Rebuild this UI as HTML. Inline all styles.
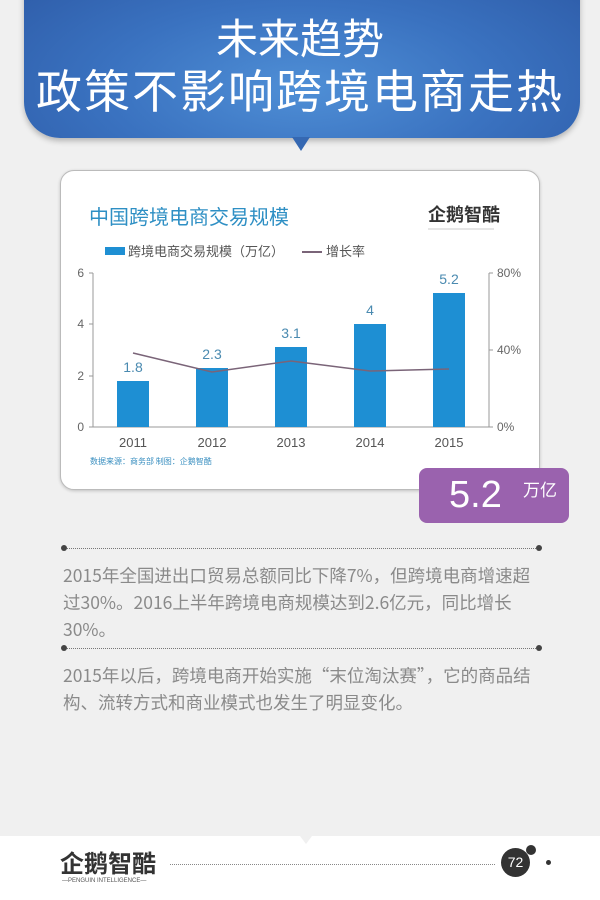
<!DOCTYPE html>
<html><head><meta charset="utf-8"><style>
*{margin:0;padding:0;box-sizing:border-box}
body{width:600px;height:900px;overflow:hidden;background:#f0f0f0;font-family:"Liberation Sans","Noto Sans CJK SC",sans-serif;position:relative}
.hdr{position:absolute;left:24px;top:-30px;width:556px;height:168px;border-radius:0 0 36px 36px;background:radial-gradient(ellipse at 50% 70%,#4f8fd6 0%,#3a72c0 50%,#2d5aa6 100%);box-shadow:0 3px 6px rgba(0,0,0,.25)}
.ptr{position:absolute;left:292px;top:137px;width:0;height:0;border-left:9px solid transparent;border-right:9px solid transparent;border-top:14px solid #3568b2}
.t{position:absolute;left:0;width:600px;text-align:center;color:#fff;font-family:"Noto Sans CJK SC",sans-serif;font-weight:400;white-space:nowrap}
.card{position:absolute;left:60px;top:170px;width:480px;height:320px;background:#fff;border:1px solid #bbb;border-radius:14px;box-shadow:0 1px 3px rgba(0,0,0,.2)}
.purple{position:absolute;left:419px;top:468px;width:150px;height:55px;background:#9a62ae;border-radius:8px;color:#fff}
.txt{position:absolute;left:63px;color:#8a8a8a;font-size:17.5px;line-height:27px;font-family:"Noto Sans CJK SC",sans-serif;white-space:nowrap}
.dl{position:absolute;left:63px;width:477px;border-top:1px dotted #777}
.dl:before,.dl:after{content:"";position:absolute;top:-4px;width:6px;height:6px;border-radius:3px;background:#444}
.dl:before{left:-2px}.dl:after{right:-2px}
.foot{position:absolute;left:0;top:836px;width:600px;height:64px;background:#fff}
</style></head><body>
<div class="hdr"></div>
<div class="ptr"></div>
<div class="t" style="top:11px;font-size:42px;line-height:52px">未来趋势</div>
<div class="t" style="top:61px;font-size:46px;line-height:56px;letter-spacing:2px">政策不影响跨境电商走热</div>

<div class="card"></div>
<svg style="position:absolute;left:0;top:0" width="600" height="900">
<g font-family="Liberation Sans, Noto Sans CJK SC, sans-serif">
<text x="89" y="224" font-size="20" fill="#2e8fc4" font-family="Noto Sans CJK SC, sans-serif">中国跨境电商交易规模</text>
<text x="428" y="221" font-size="18" fill="#333" font-family="Noto Sans CJK SC, sans-serif" font-weight="bold">企鹅智酷</text>
<line x1="428" y1="229" x2="494" y2="229" stroke="#999" stroke-width="0.6"/>
<rect x="105" y="247" width="20" height="8" fill="#1e8fd3"/>
<text x="128" y="256" font-size="13" fill="#555" font-family="Noto Sans CJK SC, sans-serif">跨境电商交易规模（万亿）</text>
<line x1="302" y1="252" x2="322" y2="252" stroke="#7a6478" stroke-width="2"/>
<text x="326" y="256" font-size="13" fill="#555" font-family="Noto Sans CJK SC, sans-serif">增长率</text>
<line x1="93" y1="273" x2="93" y2="427" stroke="#999"/>
<line x1="93" y1="427" x2="489" y2="427" stroke="#999"/>
<line x1="489" y1="273" x2="489" y2="427" stroke="#999"/>
<g stroke="#999"><line x1="89" y1="273" x2="93" y2="273"/><line x1="89" y1="324" x2="93" y2="324"/><line x1="89" y1="376" x2="93" y2="376"/><line x1="89" y1="427" x2="93" y2="427"/><line x1="489" y1="273" x2="493" y2="273"/><line x1="489" y1="350" x2="493" y2="350"/><line x1="489" y1="427" x2="493" y2="427"/></g>
<g font-size="12" fill="#666" text-anchor="end"><text x="84" y="277">6</text><text x="84" y="328">4</text><text x="84" y="380">2</text><text x="84" y="431">0</text></g>
<g font-size="12" fill="#666"><text x="497" y="277">80%</text><text x="497" y="354">40%</text><text x="497" y="431">0%</text></g>
<g fill="#1e8fd3"><rect x="117" y="381" width="32" height="46"/><rect x="196" y="368" width="32" height="59"/><rect x="275" y="347" width="32" height="80"/><rect x="354" y="324" width="32" height="103"/><rect x="433" y="293" width="32" height="134"/></g>
<g font-size="14" fill="#4a8ab0" text-anchor="middle"><text x="133" y="372">1.8</text><text x="212" y="359">2.3</text><text x="291" y="338">3.1</text><text x="370" y="315">4</text><text x="449" y="284">5.2</text></g>
<polyline points="133,353 212,372 291,361 370,371 449,369" fill="none" stroke="#7a6478" stroke-width="1.5"/>
<g font-size="13" fill="#555" text-anchor="middle"><text x="133" y="447">2011</text><text x="212" y="447">2012</text><text x="291" y="447">2013</text><text x="370" y="447">2014</text><text x="449" y="447">2015</text></g>
<text x="90" y="464" font-size="8" fill="#3a8fc0" font-family="Noto Sans CJK SC, sans-serif">数据来源：商务部 制图：企鹅智酷</text>
</g>
</svg>
<div class="purple"><span style="position:absolute;left:30px;top:6px;font-size:38px">5.2</span><span style="position:absolute;left:104px;top:8px;font-size:17px;font-family:'Noto Sans CJK SC',sans-serif">万亿</span></div>

<div class="dl" style="top:548px"></div>
<div class="txt" style="top:562px">2015年全国进出口贸易总额同比下降7%，但跨境电商增速超<br>过30%。2016上半年跨境电商规模达到2.6亿元，同比增长<br>30%。</div>
<div class="dl" style="top:648px"></div>
<div class="txt" style="top:662px">2015年以后，跨境电商开始实施“末位淘汰赛”，它的商品结<br>构、流转方式和商业模式也发生了明显变化。</div>

<div class="foot"></div>
<div style="position:absolute;left:300px;top:836px;width:0;height:0;border-left:6px solid transparent;border-right:6px solid transparent;border-top:8px solid #f0f0f0"></div>
<div style="position:absolute;left:60px;top:848px;font-size:24px;color:#333;font-family:'Noto Sans CJK SC',sans-serif;font-weight:bold;line-height:28px">企鹅智酷</div>
<div style="position:absolute;left:62px;top:878px;font-size:6px;color:#555">—PENGUIN INTELLIGENCE—</div>
<div style="position:absolute;left:170px;top:864px;width:325px;border-top:1px dotted #888"></div>
<div style="position:absolute;left:501px;top:848px;width:29px;height:29px;border-radius:50%;background:#333;color:#fff;font-size:14px;text-align:center;line-height:29px">72</div>
<div style="position:absolute;left:526px;top:845px;width:10px;height:10px;border-radius:50%;background:#333"></div>
<div style="position:absolute;left:546px;top:860px;width:5px;height:5px;border-radius:50%;background:#333"></div>
</body></html>
